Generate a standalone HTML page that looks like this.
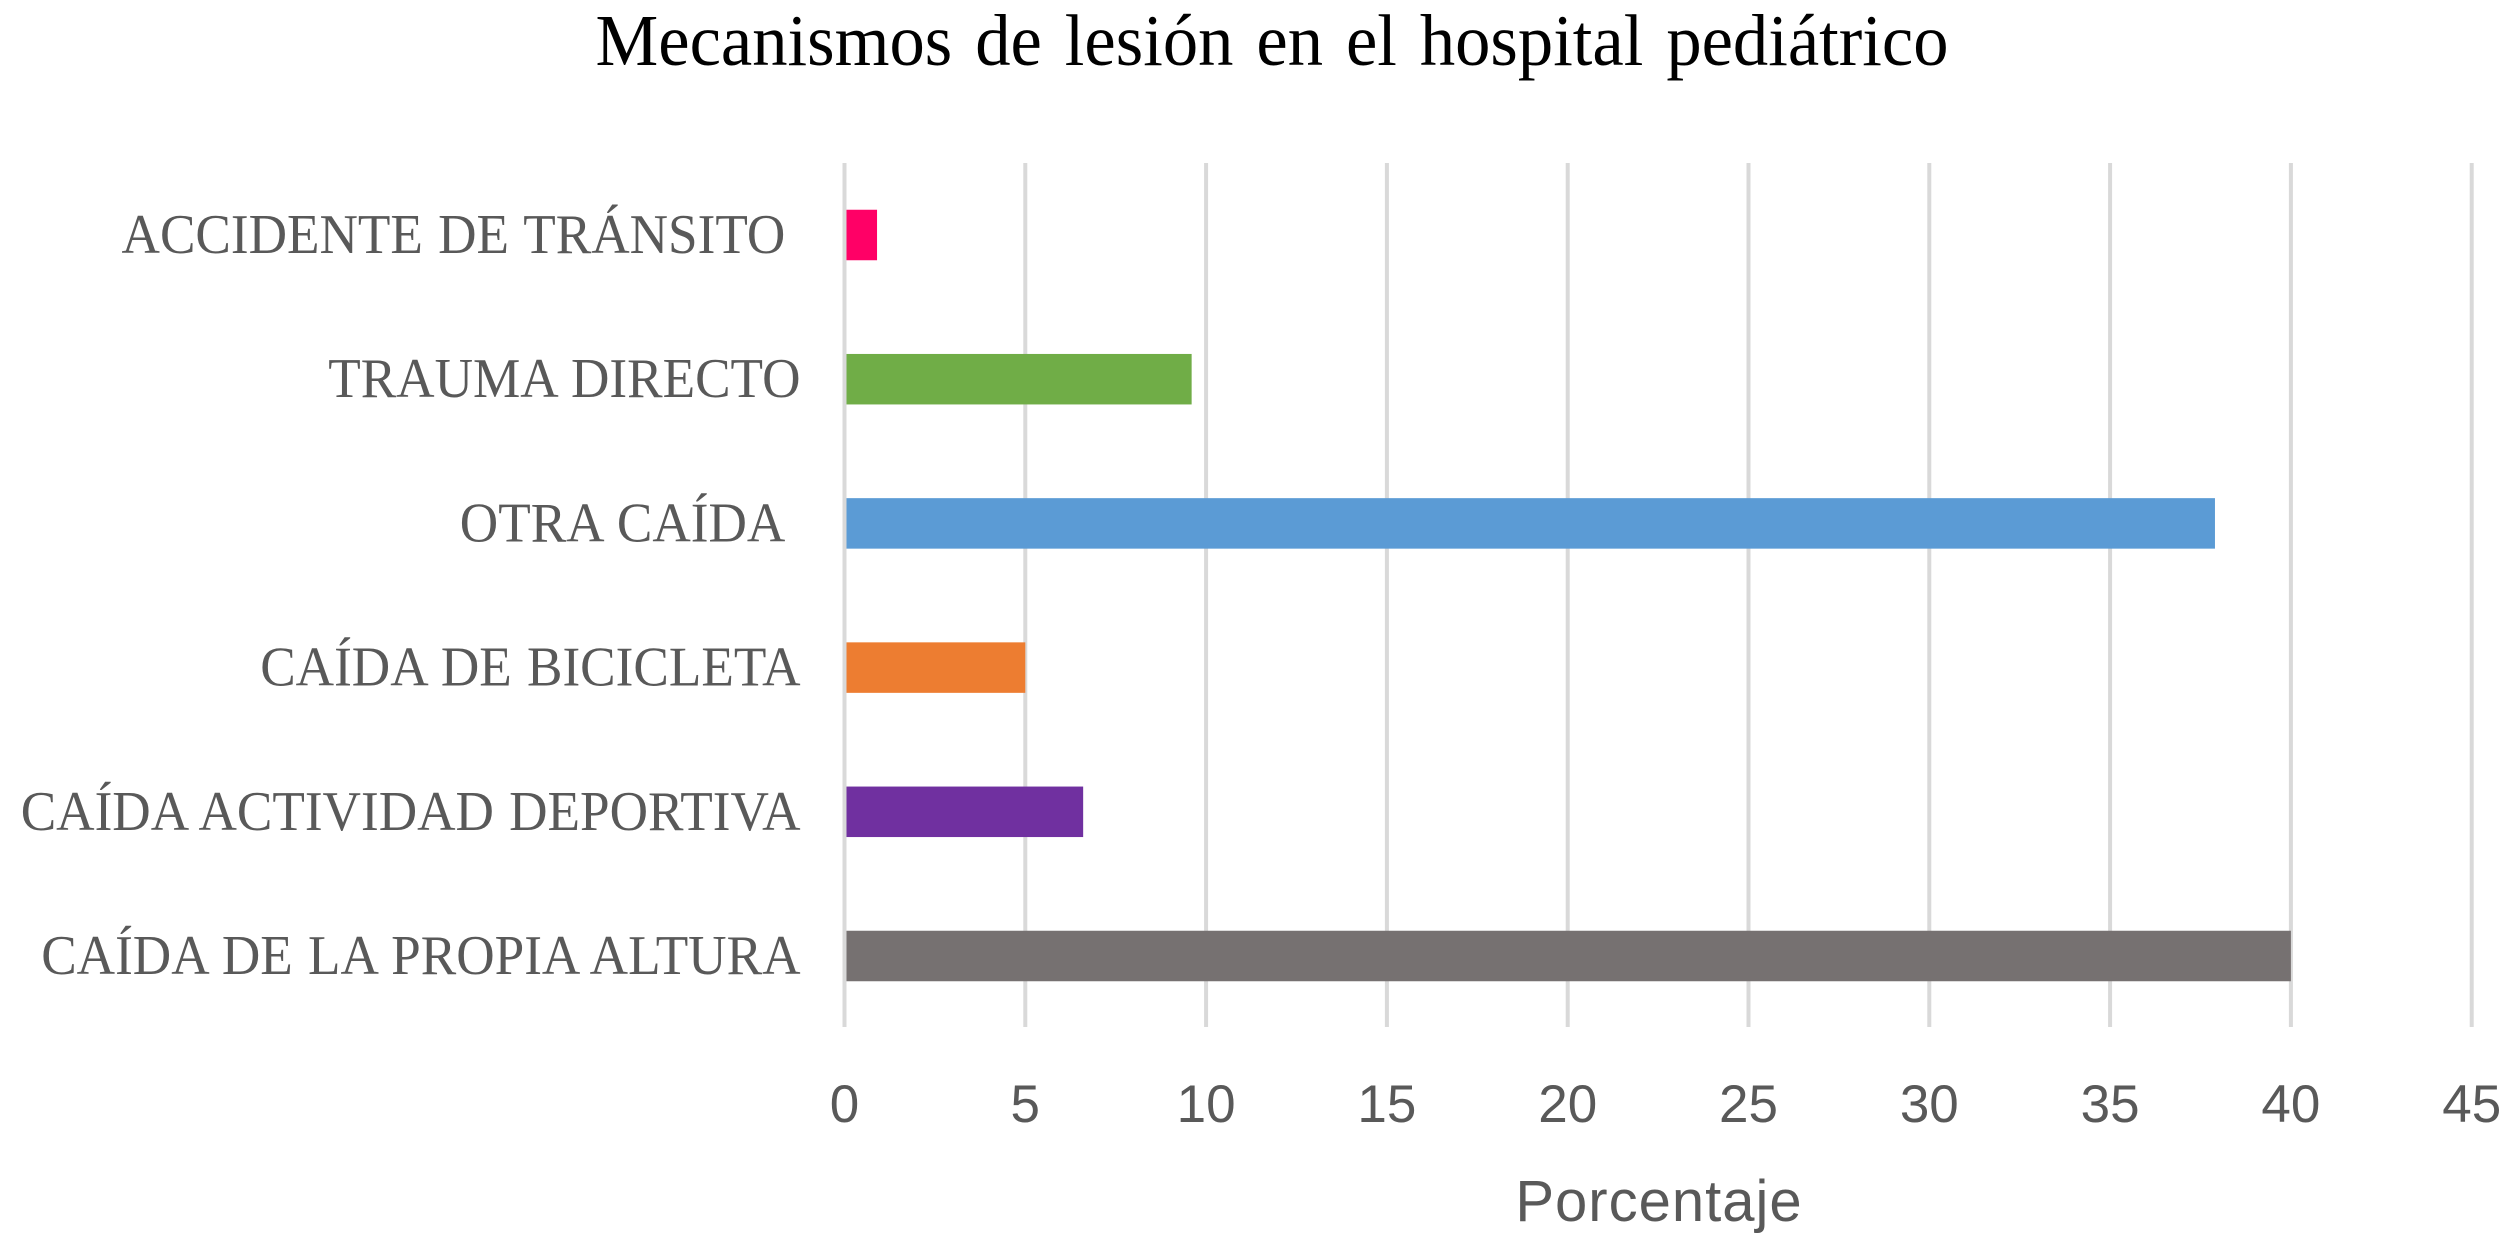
<!DOCTYPE html>
<html lang="es">
<head>
<meta charset="utf-8">
<title>Mecanismos de lesión en el hospital pediátrico</title>
<style>
html,body{margin:0;padding:0;background:#fff;}
svg{display:block;}
</style>
</head>
<body>
<svg id="chart" xmlns="http://www.w3.org/2000/svg" width="2508" height="1241" viewBox="0 0 2508 1241">
  <rect width="2508" height="1241" fill="#ffffff"/>
  <text transform="translate(1272,65) scale(0.967,1)" x="0" y="0" text-anchor="middle" font-family="'Liberation Serif',serif" font-size="73" word-spacing="5.5" fill="#000000">Mecanismos de lesión en el hospital pediátrico</text>
  <g id="grid"></g>
  <g id="bars"></g>
  <g id="cats"></g>
  <g id="ticks"></g>
  <text x="1659" y="1221" text-anchor="middle" font-family="'Liberation Sans',sans-serif" font-size="58" letter-spacing="1" fill="#595959">Porcentaje</text>
</svg>
<script>
const categories = ["ACCIDENTE DE TRÁNSITO\u00a0", "TRAUMA DIRECTO", "OTRA CAÍDA\u00a0", "CAÍDA DE BICICLETA", "CAÍDA ACTIVIDAD DEPORTIVA", "CAÍDA DE LA PROPIA ALTURA"];
const values = [0.9, 9.6, 37.9, 5, 6.6, 40];
const barColors = ["#FF0066", "#70AD47", "#5B9BD5", "#ED7D31", "#7030A0", "#767171"];
const xTicks = [0, 5, 10, 15, 20, 25, 30, 35, 40, 45];

const NS = "http://www.w3.org/2000/svg";
const xScale = v => 844.5 + v * 36.16;
const yScale = i => 235 + i * 144.2;
const BAR_HEIGHT = 50.5;
const AXIS_TOP = 163;
const AXIS_BOTTOM = 1027;

const grid = document.getElementById("grid");
const bars = document.getElementById("bars");
const cats = document.getElementById("cats");
const ticks = document.getElementById("ticks");

xTicks.forEach(t => {
  const line = document.createElementNS(NS, "line");
  
  
  line.setAttribute("x1", xScale(t));
  line.setAttribute("x2", xScale(t));
  line.setAttribute("y1", AXIS_TOP);
  line.setAttribute("y2", AXIS_BOTTOM);
  line.setAttribute("stroke", "#d9d9d9");
  line.setAttribute("stroke-width", "4");
  grid.appendChild(line);

  const label = document.createElementNS(NS, "text");
  
  
  label.setAttribute("x", xScale(t));
  label.setAttribute("y", 1122);
  label.setAttribute("text-anchor", "middle");
  label.setAttribute("font-family", "'Liberation Sans',sans-serif");
  label.setAttribute("font-size", "53");
  label.setAttribute("fill", "#595959");
  label.textContent = t;
  ticks.appendChild(label);
});

categories.forEach((c, i) => {
  const bar = document.createElementNS(NS, "rect");
  
  
  bar.setAttribute("x", xScale(0) + 2);
  bar.setAttribute("y", yScale(i) - BAR_HEIGHT / 2);
  bar.setAttribute("width", Math.max(0, xScale(values[i]) - xScale(0) - 2));
  bar.setAttribute("height", BAR_HEIGHT);
  bar.setAttribute("fill", barColors[i]);
  bars.appendChild(bar);

  const label = document.createElementNS(NS, "text");
  
  
  label.setAttribute("transform", "translate(800.5," + (yScale(i) + 18) + ") scale(0.95,1)");
  label.setAttribute("text-anchor", "end");
  label.setAttribute("font-family", "'Liberation Serif',serif");
  label.setAttribute("font-size", "56");
  label.setAttribute("word-spacing", "2");
  label.setAttribute("fill", "#595959");
  label.textContent = c;
  cats.appendChild(label);
});
</script>
</body>
</html>
